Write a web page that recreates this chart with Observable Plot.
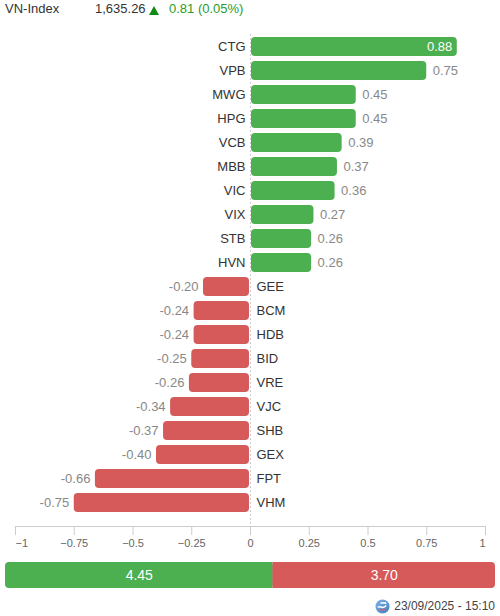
<!DOCTYPE html>
<html><head><meta charset="utf-8">
<script src="https://cdn.jsdelivr.net/npm/d3@7"></script>
<script src="https://cdn.jsdelivr.net/npm/@observablehq/plot@0.6"></script>
<style>
body{margin:0;background:#fff;font-family:Arial,"Liberation Sans",sans-serif;}
#wrap{position:relative;width:500px;height:616px;overflow:hidden;}
#header{position:absolute;left:0;top:0;width:500px;height:18px;line-height:18px;font-size:13px;color:#333;white-space:nowrap;}
#header span, #header svg{position:absolute;top:0;}
#chart{position:absolute;left:0;top:24px;}
#summary{position:absolute;left:0;top:562px;}
#footer{position:absolute;right:5px;top:597px;height:18px;font-size:12px;color:#444;line-height:18px;display:flex;align-items:center;white-space:nowrap;}
#footer svg{margin-right:4px;}
</style></head>
<body><div id="wrap">
<div id="header"></div>
<div id="chart"></div>
<div id="summary"></div>
<div id="footer"></div>
</div>
<script>
// ---- data ----
const indexName = "VN-Index";
const indexValue = "1,635.26";
const indexChange = "0.81";
const indexPct = "0.05%";
const tickers = ["CTG","VPB","MWG","HPG","VCB","MBB","VIC","VIX","STB","HVN","GEE","BCM","HDB","BID","VRE","VJC","SHB","GEX","FPT","VHM"];
const values = [0.88,0.75,0.45,0.45,0.39,0.37,0.36,0.27,0.26,0.26,-0.20,-0.24,-0.24,-0.25,-0.26,-0.34,-0.37,-0.40,-0.66,-0.75];
const tickVals = [-1,-0.75,-0.5,-0.25,0,0.25,0.5,0.75,1];
const upTotal = 4.45;
const downTotal = 3.70;
const timestamp = "23/09/2025 - 15:10";

// ---- styles ----
const GREEN = "#4caf50";
const RED = "#d65a5a";
const FONT = 'Arial, "Liberation Sans", sans-serif';

// header
const header = document.getElementById("header");
header.innerHTML =
  `<span style="left:5px">${indexName}</span>` +
  `<span style="left:95px">${indexValue}</span>` +
  `<svg style="left:149px;top:6px" width="10" height="9" viewBox="0 0 10 9"><polygon points="5,0 10,9 0,9" fill="#128a16"/></svg>` +
  `<span style="left:169px;color:#2a9d2a">${indexChange} (${indexPct})</span>`;

const data = tickers.map((t, i) => ({ticker: t, value: values[i]}));
const pos = data.filter(d => d.value >= 0);
const neg = data.filter(d => d.value < 0);

const W = 500, H = 532, ML = 15, MR = 15;
const xs = d3.scaleLinear([-1, 1], [ML, W - MR]);
const labelW = 31;
const fitsOutside = d => d.value >= 0 ? xs(d.value) + labelW <= W - MR : xs(d.value) - labelW >= ML;

const fmtTick = d => (d < 0 ? "\u2212" : "") + String(Math.abs(d));
const axisOpts = {tickSize: 9, tickPadding: 4, stroke: "#ccc", fill: "#666", fontSize: 11, label: null, tickFormat: fmtTick};

const chart = Plot.plot({
  width: W, height: H,
  marginLeft: ML, marginRight: MR, marginTop: 10, marginBottom: 30,
  style: {fontFamily: FONT, fontSize: "13px", background: "transparent", overflow: "visible"},
  x: {domain: [-1, 1]},
  y: {domain: tickers, range: [10, 491], paddingInner: 0.2, paddingOuter: 0.1, axis: null},
  marks: [
    Plot.ruleX([0], {stroke: "#ccc", strokeDasharray: "2,2"}),
    Plot.frame({anchor: "bottom", stroke: "#ccc"}),
    Plot.axisX(tickVals.slice(1, -1), axisOpts),
    Plot.axisX(tickVals.slice(0, 1), {...axisOpts, textAnchor: "start"}),
    Plot.axisX(tickVals.slice(-1), {...axisOpts, textAnchor: "end"}),
    Plot.barX(pos, {x1: 0, x2: "value", y: "ticker", fill: GREEN, rx: 4, insetLeft: 1}),
    Plot.barX(neg, {x1: "value", x2: 0, y: "ticker", fill: RED, rx: 4, insetRight: 1}),
    Plot.text(pos, {x: 0, y: "ticker", text: "ticker", textAnchor: "end", dx: -5, fill: "#333"}),
    Plot.text(neg, {x: 0, y: "ticker", text: "ticker", textAnchor: "start", dx: 6, fill: "#333"}),
    Plot.text(pos.filter(fitsOutside), {x: "value", y: "ticker", text: d => d.value.toFixed(2), textAnchor: "start", dx: 6, fill: "#888"}),
    Plot.text(pos.filter(d => !fitsOutside(d)), {x: "value", y: "ticker", text: d => d.value.toFixed(2), textAnchor: "end", dx: -5, fill: "#fff"}),
    Plot.text(neg.filter(fitsOutside), {x: "value", y: "ticker", text: d => d.value.toFixed(2), textAnchor: "end", dx: -5, fill: "#888"}),
    Plot.text(neg.filter(d => !fitsOutside(d)), {x: "value", y: "ticker", text: d => d.value.toFixed(2), textAnchor: "start", dx: 5, fill: "#fff"})
  ]
});
document.getElementById("chart").appendChild(chart);

// summary bar
const total = upTotal + downTotal;
const segs = [
  {a: 0, b: upTotal, c: GREEN, label: upTotal.toFixed(2)},
  {a: upTotal, b: total, c: RED, label: downTotal.toFixed(2)}
];
const joins = [
  {a: upTotal / 2, b: upTotal, c: GREEN},
  {a: upTotal, b: upTotal + downTotal / 2, c: RED}
];
const summary = Plot.plot({
  width: 500, height: 26,
  marginLeft: 5, marginRight: 5, marginTop: 0, marginBottom: 0,
  style: {fontFamily: FONT, background: "transparent"},
  x: {domain: [0, total], axis: null},
  marks: [
    Plot.barX(segs, {x1: "a", x2: "b", fill: "c", rx: 4}),
    Plot.barX(joins, {x1: "a", x2: "b", fill: "c"}),
    Plot.text(segs, {x: d => (d.a + d.b) / 2, frameAnchor: "middle", text: "label", fill: "#fff", fontSize: 14})
  ]
});
document.getElementById("summary").appendChild(summary);

// footer
document.getElementById("footer").innerHTML =
  `<svg width="15" height="15" viewBox="0 0 16 16"><defs><linearGradient id="gl" x1="0" y1="0" x2="1" y2="1"><stop offset="0" stop-color="#7fb3e6"/><stop offset="1" stop-color="#3f7fc4"/></linearGradient></defs>` +
  `<circle cx="8" cy="8" r="7.5" fill="url(#gl)"/><path d="M3 9 C5 6, 8 12, 12 7 M6 4 C8 5, 10 3, 12 5" stroke="#fff" stroke-width="1.6" fill="none"/><path d="M5 12 C7 10, 9 13, 11 11" stroke="#e05a5a" stroke-width="1.3" fill="none"/></svg>` +
  `<span>${timestamp}</span>`;
</script>
</body></html>
